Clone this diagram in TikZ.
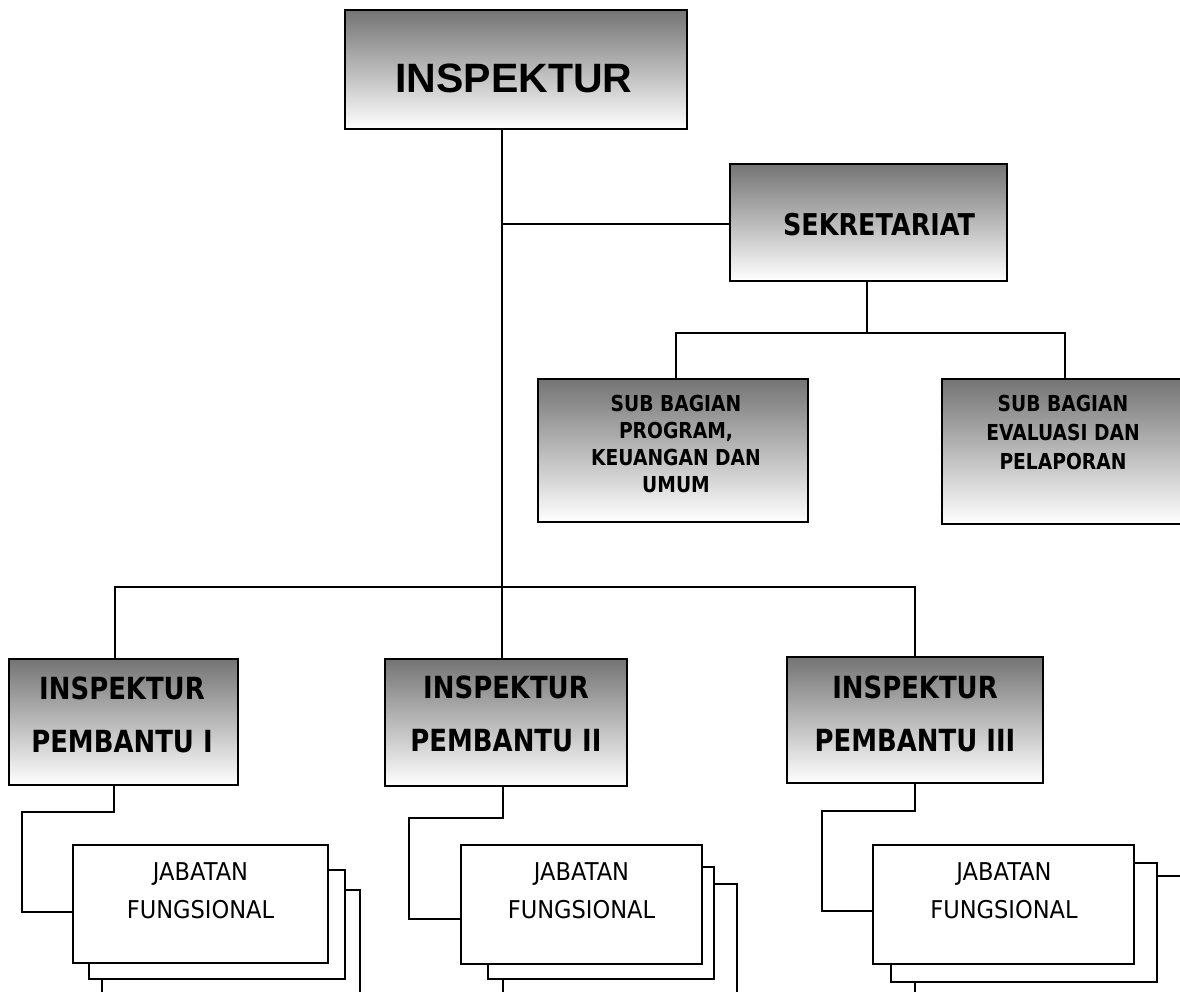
\documentclass[tikz,border=0pt]{standalone}
\usepackage{fontspec}
\setmainfont{DejaVu Sans}
\newfontfamily\tahb[FakeStretch=0.85]{DejaVu Sans}
\newfontfamily\tahr[FakeStretch=0.92]{DejaVu Sans}
\newfontfamily\arialf{Liberation Sans}
\definecolor{gtop}{RGB}{116,116,116}
\tikzset{
  gbox/.style={draw=black, line width=1.8pt, rectangle, inner sep=0pt, top color=gtop, bottom color=white},
  wbox/.style={draw=black, line width=1.8pt, rectangle, inner sep=0pt, fill=white},
  conn/.style={draw=black, line width=1.8pt},
  lbl/.style={anchor=base, align=center, inner sep=0pt, text=black},
}
\begin{document}
\begin{tikzpicture}[x=1pt,y=-1pt]
\useasboundingbox[fill=white] (0,0) rectangle (1180,991);

% ---- boxes ----
\node[gbox, minimum width=342pt, minimum height=119pt] (insp) at (516,69.5) {};
\node[gbox, minimum width=277pt, minimum height=117pt] (sek) at (868.5,222.5) {};
\node[gbox, minimum width=270pt, minimum height=143pt] (sub1) at (673,450.5) {};
\node[gbox, minimum width=240pt, minimum height=145pt] (sub2) at (1062,451.5) {};
\node[gbox, minimum width=229pt, minimum height=126pt] (ip1) at (123.5,722) {};
\node[gbox, minimum width=242pt, minimum height=127pt] (ip2) at (506,722.5) {};
\node[gbox, minimum width=256pt, minimum height=126pt] (ip3) at (915,720) {};

% stacks (back to front)
\node[wbox, minimum width=258pt, minimum height=120pt] (j1c) at (231,950) {};
\node[wbox, minimum width=256pt, minimum height=109pt] (j1b) at (217,924.5) {};
\node[wbox, minimum width=255pt, minimum height=118pt] (j1a) at (200.5,904) {};
\node[wbox, minimum width=234pt, minimum height=126pt] (j2c) at (620,947) {};
\node[wbox, minimum width=226pt, minimum height=112pt] (j2b) at (601,923) {};
\node[wbox, minimum width=241pt, minimum height=119pt] (j2a) at (581.5,904.5) {};
\node[wbox, minimum width=285pt, minimum height=134pt] (j3c) at (1057.5,943) {};
\node[wbox, minimum width=266pt, minimum height=119pt] (j3b) at (1024,922.5) {};
\node[wbox, minimum width=261pt, minimum height=119pt] (j3a) at (1003.5,904.5) {};

% ---- connectors ----
\coordinate (tb) at (502,587);
\coordinate (sb) at (502,224);
\coordinate (sh) at (867,333);
\coordinate (shL) at (676,333);
\coordinate (shR) at (1065,333);
\coordinate (bL) at (115,587);
\coordinate (bR) at (915,587);
\draw[conn] (tb |- insp.south) -- (tb);
\draw[conn] (sb) -- (sb -| sek.west);
\draw[conn] (sh |- sek.south) -- (sh);
\draw[conn] (shL |- sub1.north) -- (shL) -- (shR) -- (shR |- sub2.north);
\draw[conn] (bL |- ip1.north) -- (bL) -- (bR) -- (bR |- ip3.north);
\draw[conn] (tb) -- (tb |- ip2.north);

\coordinate (k1a) at (114,812);
\coordinate (k1b) at (22,912);
\draw[conn] (k1a |- ip1.south) -- (k1a) -- (k1a -| k1b) -- (k1b) -- (k1b -| j1a.west);
\coordinate (k2a) at (503,818);
\coordinate (k2b) at (409,919);
\draw[conn] (k2a |- ip2.south) -- (k2a) -- (k2a -| k2b) -- (k2b) -- (k2b -| j2a.west);
\coordinate (k3a) at (915,811);
\coordinate (k3b) at (822,911);
\draw[conn] (k3a |- ip3.south) -- (k3a) -- (k3a -| k3b) -- (k3b) -- (k3b -| j3a.west);

% ---- labels (anchor = baseline of last line) ----
\node[lbl, font=\arialf\bfseries\fontsize{41}{49}\selectfont] (tInsp) at (514,92.7) {INSPEKTUR};
\node[lbl, font=\tahb\bfseries\fontsize{30}{36}\selectfont] (tSek) at (879,235) {SEKRETARIAT};
\node[lbl, font=\tahb\bfseries\fontsize{22}{27}\selectfont] (tSub1) at (676,492.7) {SUB BAGIAN\\PROGRAM,\\KEUANGAN DAN\\UMUM};
\node[lbl, font=\tahb\bfseries\fontsize{22}{29}\selectfont] (tSub2) at (1063,469.7) {SUB BAGIAN\\EVALUASI DAN\\PELAPORAN};
\node[lbl, font=\tahb\bfseries\fontsize{30.5}{53}\selectfont] (tIp1) at (122,752) {INSPEKTUR\\PEMBANTU I};
\node[lbl, font=\tahb\bfseries\fontsize{30.5}{53}\selectfont] (tIp2) at (506,751) {INSPEKTUR\\PEMBANTU II};
\node[lbl, font=\tahb\bfseries\fontsize{30.5}{53}\selectfont] (tIp3) at (915,751) {INSPEKTUR\\PEMBANTU III};
\node[lbl, font=\tahr\fontsize{24.5}{38}\selectfont] (tJ1) at (200.5,918) {JABATAN\\FUNGSIONAL};
\node[lbl, font=\tahr\fontsize{24.5}{38}\selectfont] (tJ2) at (581.5,918) {JABATAN\\FUNGSIONAL};
\node[lbl, font=\tahr\fontsize{24.5}{38}\selectfont] (tJ3) at (1004,918) {JABATAN\\FUNGSIONAL};
\end{tikzpicture}
\end{document}
